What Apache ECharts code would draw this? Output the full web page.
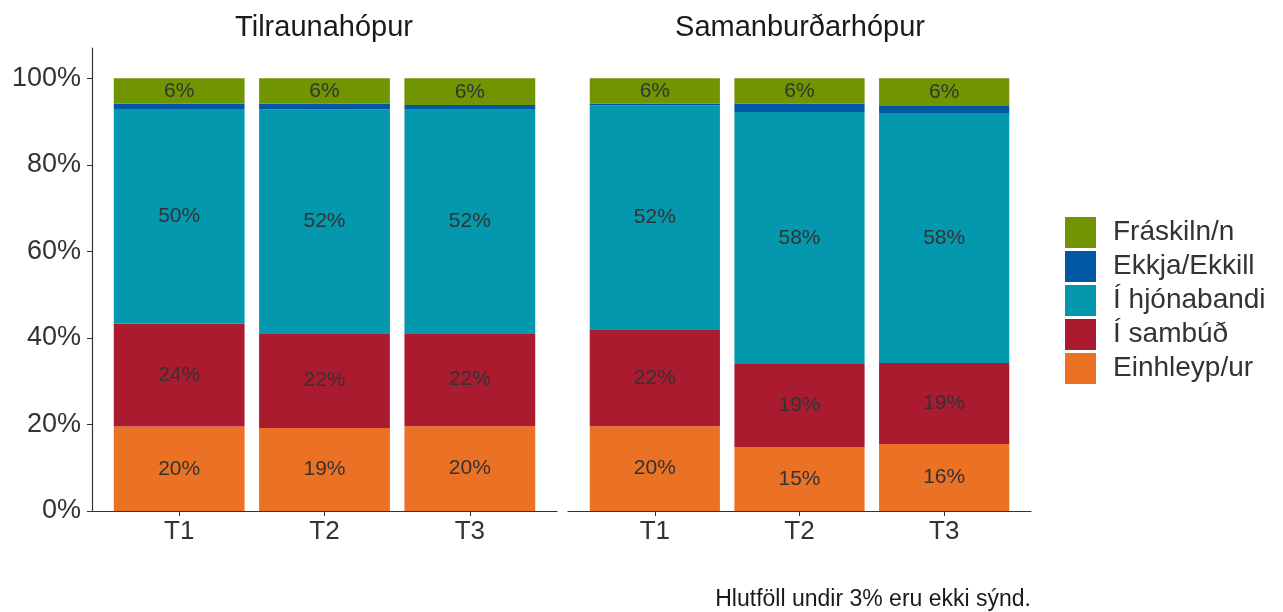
<!DOCTYPE html>
<html>
<head>
<meta charset="utf-8">
<script src="https://cdn.jsdelivr.net/npm/echarts@6/dist/echarts.min.js"></script>
<style>
  html, body { margin: 0; padding: 0; background: #fff; }
  #chart { width: 1283px; height: 612px; }
</style>
</head>
<body>
<div id="chart"></div>
<script>
// flokkar og hópar
const categories = ["T1", "T2", "T3"]
const groups = ["Tilraunahópur", "Samanburðarhópur"]
const yTicks = [0, 20, 40, 60, 80, 100]

// hlutföll (%), fyrstu þrjú gildin eru Tilraunahópur, hin þrjú Samanburðarhópur
const einhleyp = [19.5, 19.2, 19.6, 19.6, 14.8, 15.5]
const sambud = [23.8, 21.9, 21.5, 22.4, 19.2, 18.7]
const hjonaband = [49.6, 51.7, 51.8, 51.7, 58.2, 57.8]
const ekkja = [1.2, 1.4, 0.9, 0.5, 2.0, 1.6]
const fraskilin = [5.9, 5.8, 6.2, 5.8, 5.8, 6.4]

const seriesDefs = [
  { name: "Einhleyp/ur", data: einhleyp, color: "#EB7125" },
  { name: "Í sambúð", data: sambud, color: "#AA1B30" },
  { name: "Í hjónabandi", data: hjonaband, color: "#0398AD" },
  { name: "Ekkja/Ekkill", data: ekkja, color: "#0058A4" },
  { name: "Fráskiln/n", data: fraskilin, color: "#719500" }
]

const font = "Liberation Sans, Arial, sans-serif"
const axisColor = "#333333"
const yMax = 107

// 0,1: grids for the bars, 2,3: full panels (axis lines only)
const grids = [
  { left: 106.5, top: 48, width: 436, height: 463 },
  { left: 582.5, top: 48, width: 434, height: 463 },
  { left: 92, top: 48, width: 465, height: 463 },
  { left: 568, top: 48, width: 463, height: 463 }
]

const xAxes = [
  ...groups.map((g, i) => ({
    type: "category",
    gridIndex: i,
    data: categories,
    axisLine: { show: false },
    axisTick: { show: true, alignWithLabel: true, length: 5, lineStyle: { color: axisColor } },
    axisLabel: { color: "#333", fontSize: 26, fontFamily: font, margin: 8 }
  })),
  ...groups.map((g, i) => ({
    type: "value",
    gridIndex: i + 2,
    min: 0,
    max: 1,
    splitLine: { show: false },
    axisTick: { show: false },
    axisLabel: { show: false },
    axisLine: { show: true, onZero: false, lineStyle: { color: axisColor, width: 1.2 } }
  }))
]

const yAxes = [
  ...groups.map((g, i) => ({
    type: "value",
    gridIndex: i,
    min: 0,
    max: yMax,
    show: false
  })),
  ...groups.map((g, i) => ({
    type: "value",
    gridIndex: i + 2,
    min: 0,
    max: yMax,
    splitLine: { show: false },
    axisLine: { show: i === 0, lineStyle: { color: axisColor, width: 1.2 } },
    axisTick: { show: i === 0, length: 5, customValues: yTicks, lineStyle: { color: axisColor } },
    axisLabel: {
      show: i === 0,
      customValues: yTicks,
      formatter: (v) => v + "%",
      color: "#333",
      fontSize: 27,
      fontFamily: font,
      margin: 11
    }
  }))
]

const series = []
groups.forEach((g, gi) => {
  seriesDefs.forEach((s) => {
    series.push({
      name: s.name,
      type: "bar",
      xAxisIndex: gi,
      yAxisIndex: gi,
      stack: "g" + gi,
      barWidth: "90%",
      itemStyle: { color: s.color },
      label: {
        show: true,
        position: "inside",
        color: "#333",
        fontSize: 21,
        fontFamily: font,
        formatter: (p) => (p.value < 3 ? "" : Math.round(p.value) + "%")
      },
      emphasis: { disabled: true },
      data: s.data.slice(gi * 3, gi * 3 + 3)
    })
  })
})

const myChart = echarts.init(document.getElementById("chart"))
myChart.setOption({
  animation: false,
  grid: grids,
  xAxis: xAxes,
  yAxis: yAxes,
  legend: {
    orient: "vertical",
    left: 1065,
    top: 217,
    padding: 0,
    itemWidth: 31,
    itemHeight: 31,
    itemGap: 3,
    icon: "rect",
    data: seriesDefs.map((s) => s.name).reverse(),
    textStyle: { color: "#333", fontSize: 28, fontFamily: font, padding: [0, 0, 0, 12] }
  },
  graphic: [
    {
      type: "text",
      x: 324,
      y: 28,
      style: { text: groups[0], font: "29px " + font, fill: "#1a1a1a", textAlign: "center", textVerticalAlign: "middle" }
    },
    {
      type: "text",
      x: 800,
      y: 28,
      style: { text: groups[1], font: "29px " + font, fill: "#1a1a1a", textAlign: "center", textVerticalAlign: "middle" }
    },
    {
      type: "text",
      x: 1031,
      y: 600,
      style: { text: "Hlutföll undir 3% eru ekki sýnd.", font: "23px " + font, fill: "#1a1a1a", textAlign: "right", textVerticalAlign: "middle" }
    }
  ],
  series: series
})
window.addEventListener("resize", () => {
  myChart.resize()
})
</script>
</body>
</html>
